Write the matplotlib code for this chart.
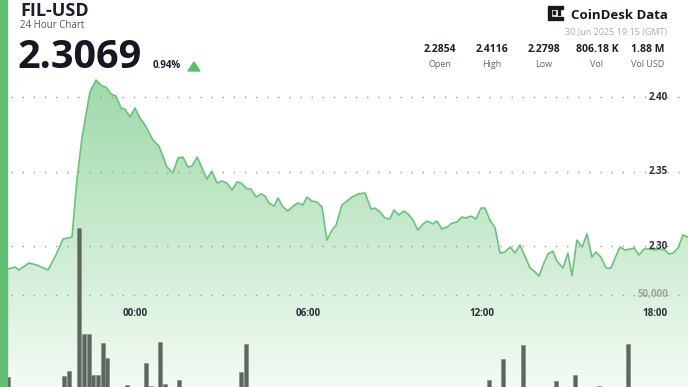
import numpy as np
import matplotlib
matplotlib.use('Agg')
import matplotlib.pyplot as plt
from matplotlib.patches import Polygon, Rectangle
import matplotlib.transforms as mtransforms

plt.rcParams['font.family'] = ['Open Sans', 'DejaVu Sans']

# hours relative to 00:00 (30 Jun), 10-min-ish samples
times = [-4.75, -4.39, -4.15, -4.01, -3.67, -3.39, -3.01, -2.77, -2.49, -2.18,
         -2.01, -1.83, -1.56, -1.35, -1.14, -1.00, -0.83, -0.66, -0.48, -0.35,
         -0.17, 0.00, 0.17, 0.35, 0.62, 0.83, 1.11, 1.31, 1.49, 1.66,
         1.83, 1.97, 2.15, 2.49, 2.66, 2.84, 3.01, 3.18, 3.36, 3.53,
         3.67, 3.88, 4.01, 4.19, 4.36, 4.50, 4.64, 4.81, 4.95, 5.12,
         5.29, 5.47, 5.64, 5.81, 5.95, 6.12, 6.30, 6.47, 6.64, 6.82,
         6.96, 7.16, 7.51, 7.72, 7.96, 8.17, 8.30, 8.48, 8.65, 8.82,
         8.96, 9.13, 9.31, 9.45, 9.62, 9.79, 9.97, 10.10, 10.31, 10.45,
         10.62, 10.80, 10.97, 11.14, 11.31, 11.45, 11.63, 11.80, 11.97, 12.11,
         12.28, 12.46, 12.63, 12.80, 12.98, 13.15, 13.32, 13.49, 13.67, 13.81,
         13.98, 14.15, 14.29, 14.46, 14.60, 14.81, 14.98, 15.12, 15.29, 15.47,
         15.64, 15.81, 15.95, 16.12, 16.30, 16.47, 16.61, 16.78, 16.96, 17.13,
         17.27, 17.44, 17.61, 17.79, 17.99, 18.17, 18.34, 18.48, 18.62, 18.79,
         18.96, 19.13, 19.25]

prices = [2.2854, 2.2846, 2.2859, 2.2839, 2.2886, 2.2872, 2.2839, 2.2926, 2.3047, 2.3060,
          2.3443, 2.3732, 2.4034, 2.4114, 2.4074, 2.4067, 2.4020, 2.4007, 2.3926, 2.3919,
          2.3866, 2.3926, 2.3859, 2.3812, 2.3711, 2.3671, 2.3530, 2.3490, 2.3591, 2.3597,
          2.3530, 2.3537, 2.3597, 2.3450, 2.3503, 2.3423, 2.3436, 2.3423, 2.3376, 2.3430,
          2.3423, 2.3383, 2.3383, 2.3329, 2.3349, 2.3336, 2.3289, 2.3268, 2.3322, 2.3262,
          2.3235, 2.3268, 2.3289, 2.3275, 2.3329, 2.3302, 2.3295, 2.3262, 2.3040, 2.3107,
          2.3141, 2.3275, 2.3329, 2.3349, 2.3356, 2.3248, 2.3255, 2.3228, 2.3188, 2.3181,
          2.3242, 2.3208, 2.3235, 2.3215, 2.3174, 2.3107, 2.3148, 2.3168, 2.3148, 2.3168,
          2.3114, 2.3128, 2.3154, 2.3161, 2.3195, 2.3188, 2.3201, 2.3181, 2.3255, 2.3255,
          2.3174, 2.3121, 2.2953, 2.2960, 2.2993, 2.2953, 2.3007, 2.2933, 2.2852, 2.2832,
          2.2799, 2.2886, 2.2946, 2.2966, 2.2899, 2.2852, 2.2953, 2.2800, 2.3040, 2.2993,
          2.3081, 2.2926, 2.2960, 2.2926, 2.2852, 2.2852, 2.2919, 2.2993, 2.2973, 2.2980,
          2.2987, 2.2940, 2.2980, 2.2980, 2.2973, 2.2980, 2.2973, 2.2946, 2.2953, 2.2987,
          2.3074, 2.3060, 2.3069]

vol_times = [-4.39, -2.46, -2.28, -1.94, -1.76, -1.59, -1.45, -1.28, -1.11, -0.97,
             -0.28, 0.38, 0.55, 0.87, 1.04, 1.52, 3.67, 3.84,
             12.25, 12.73, 13.43, 14.57, 15.22, 16.06, 17.06]
volumes = [5400, 6000, 8700, 86400, 28800, 28800, 6500, 6500, 23900, 15800,
           1100, 13000, 600, 24500, 1600, 3800, 8200, 23400,
           3800, 15200, 22800, 3300, 6500, 600, 23400]

price_ticks = [2.40, 2.35, 2.30]
price_tick_labels = ['2.40', '2.35', '2.30']
time_ticks = [0, 6, 12, 18]
time_tick_labels = ['00:00', '06:00', '12:00', '18:00']
vol_tick = 50000
vol_tick_label = '50,000'

stat_values = ['2.2854', '2.4116', '2.2798', '806.18 K', '1.88 M']
stat_names = ['Open', 'High', 'Low', 'Vol', 'Vol USD']

W, H = 688, 387
fig = plt.figure(figsize=(W / 100, H / 100), dpi=100, facecolor='white')
ax = fig.add_axes([0, 0, 1, 1])
ax.axis('off')
xmin, xmax = -4.671, 19.135
ymin, ymax = 2.2054, 2.4651

def fx(px):
    return px / W

def fy(py):
    return 1 - py / H

# gradient fill under the price line
green = np.array([0.36, 0.75, 0.43])
img = np.zeros((256, 1, 4))
img[:, 0, :3] = green
img[:, 0, 3] = np.linspace(0.07, 0.60, 256)
im = ax.imshow(img, extent=[xmin, xmax, ymin, 2.415], origin='lower',
               aspect='auto', zorder=1, interpolation='bilinear')
verts = [(times[0], ymin)] + list(zip(times, prices)) + [(times[-1], ymin)]
clip = Polygon(verts, closed=True, facecolor='none', edgecolor='none')
ax.add_patch(clip)
im.set_clip_path(clip)
ax.set_xlim(xmin, xmax)
ax.set_ylim(ymin, ymax)

ax.plot(times, prices, color='#6cc27a', lw=1.2, zorder=3, solid_joinstyle='round')

grid_kw = dict(color='#9a9a9a', lw=1.0, ls=(0, (1, 7)), xmin=fx(11), xmax=1, zorder=2)
for p in price_ticks:
    ax.axhline(p, **grid_kw)

# volume bars on a twin axis
ax2 = ax.twinx()
ax2.axis('off')
ax2.set_ylim(0, 210326)
ax2.set_xlim(xmin, xmax)
ax2.bar(vol_times, volumes, width=0.15, color='#5d675d', edgecolor='#7d877d',
        lw=0.4, zorder=4)
ax2.axhline(vol_tick, **grid_kw)

ytrans = mtransforms.blended_transform_factory(ax.transAxes, ax.transData)
for p, lab in zip(price_ticks, price_tick_labels):
    ax.text(fx(668), p, lab, transform=ytrans, ha='right', va='center',
            fontsize=7, fontweight='bold', color='#2b2e3a', zorder=6)
vtrans = mtransforms.blended_transform_factory(ax2.transAxes, ax2.transData)
ax2.text(fx(668), vol_tick, vol_tick_label, transform=vtrans, ha='right', va='center',
         fontsize=7, fontweight='bold', color='#a0a0a0', zorder=6)

xtrans = mtransforms.blended_transform_factory(ax.transData, ax.transAxes)
for t, lab in zip(time_ticks, time_tick_labels):
    ax.text(t, fy(313), lab, transform=xtrans, ha='center', va='center',
            fontsize=7, fontweight='bold', color='#2b2e3a', zorder=6)

# header
fig.text(fx(20), fy(16), 'FIL-USD', fontsize=13, fontweight='bold', color='#1c1f2b')
fig.text(fx(20), fy(28), '24 Hour Chart', fontsize=7, color='#555555')
fig.text(fx(17), fy(68), '2.3069', fontsize=28.5, fontweight='bold', color='#151823')
fig.text(fx(153), fy(68), '0.94%', fontsize=7, fontweight='bold', color='#1c1f2b')
tri = Polygon([(fx(188), fy(71)), (fx(200), fy(71)), (fx(194), fy(62))], closed=True,
              transform=fig.transFigure, color='#5cbf6e')
fig.patches.append(tri)

# logo
fig.text(fx(668), fy(19), 'CoinDesk Data', ha='right', fontsize=9.5,
         fontweight='bold', color='#16181f')
for (x0, y0, w, h) in [(548, 6, 3, 14), (552, 6, 3, 3), (556, 6, 3, 3), (560, 6, 3, 3),
                       (552, 17, 3, 3), (556, 17, 3, 3), (560, 17, 3, 3),
                       (553, 11, 2, 3), (558, 10, 2, 2), (558, 13, 2, 2)]:
    fig.patches.append(Rectangle((fx(x0), fy(y0 + h)), w / W, h / H,
                                 transform=fig.transFigure, color='#16181f'))
fig.text(fx(667), fy(35), '30 Jun 2025 19:15 (GMT)', ha='right', fontsize=6.5,
         color='#aaaaaa')

for cx, val, name in zip([440, 492, 544, 597, 648], stat_values, stat_names):
    fig.text(fx(cx), fy(52), val, ha='center', fontsize=7.5, fontweight='bold',
             color='#1c1f2b')
    fig.text(fx(cx), fy(67), name, ha='center', fontsize=6.5, color='#666666')

fig.patches.append(Rectangle((0, 0), fx(7), 1, transform=fig.transFigure,
                             color='#63bf73', zorder=10))

fig.savefig('out.png', dpi=100, facecolor='white')
